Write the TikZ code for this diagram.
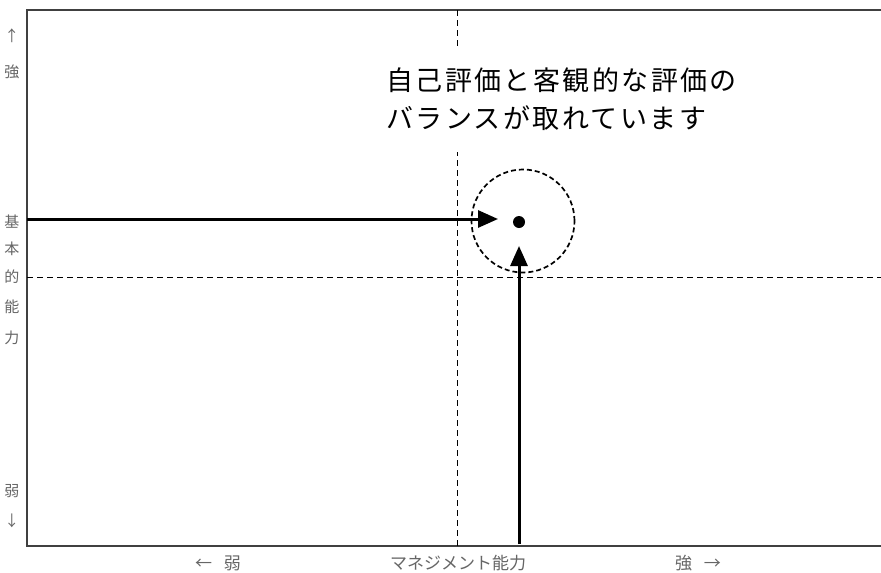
\documentclass[tikz,border=0pt]{standalone}
\usepackage{fontspec}
\newfontfamily\jp{Noto Sans CJK JP}
\newfontfamily\jpspaced{Noto Sans CJK JP}[LetterSpace=9]
\usetikzlibrary{arrows.meta}
\begin{document}
\begin{tikzpicture}[x=1pt,y=-1pt,
  frame/.style={draw=black!75,line width=1.3pt},
  guide/.style={draw=black,line width=1pt,dash pattern=on 6pt off 4pt},
  bigarrow/.style={draw=black,line width=3pt,-{Triangle[length=20pt,width=17pt]}},
  axislabel/.style={font=\jp\fontsize{15}{15}\selectfont,text=black!60,inner sep=0pt},
  bottomlabel/.style={font=\jp\fontsize{17}{17}\selectfont,text=black!60,inner sep=0pt},
  note/.style={font=\jpspaced\fontsize{27}{27}\selectfont,anchor=west,inner sep=0pt}]
\useasboundingbox (0,0) rectangle (881,573);
\fill[white] (0,0) rectangle (881,573);
% frame
\coordinate (tl) at (27,10);
\coordinate (bl) at (27,546);
\coordinate (tr) at (881,10);
\coordinate (br) at (881,546);
\draw[frame] (tr) -- (tl) -- (bl) -- (br);
% guides
\coordinate (vt) at (457,10);
\coordinate (vb) at (457,546);
\coordinate (hl) at (27,277);
\coordinate (hr) at (881,277);
\draw[guide] (vt) -- (vb);
\draw[guide] (hl) -- (hr);
% text box (white background hides the guide)
\node[fill=white,minimum width=366pt,minimum height=104pt,inner sep=0pt] (notebox) at (562,100) {};
\node[note] (n1) at (386,80) {自己評価と客観的な評価の};
\node[note] (n2) at (386,118) {バランスが取れています};
% circle and dot
\node[draw=black,line width=1.7pt,dash pattern=on 5pt off 3pt,circle,minimum size=103pt,inner sep=0pt] (ring) at (523,221) {};
\node[fill=black,circle,minimum size=12pt,inner sep=0pt] (dot) at (519,222) {};
% arrows
\coordinate (hstart) at (27,219);
\coordinate (htip) at (498,219);
\coordinate (vstart) at (519,544);
\coordinate (vtip) at (519,246);
\draw[bigarrow] (hstart) -- (htip);
\draw[bigarrow] (vstart) -- (vtip);
% left axis labels
\node[axislabel] (la1) at (12,36) {↑};
\node[axislabel] (la2) at (12,72) {強};
\node[axislabel] (lb1) at (12,222) {基};
\node[axislabel] (lb2) at (12,249) {本};
\node[axislabel] (lb3) at (12,277) {的};
\node[axislabel] (lb4) at (12,307) {能};
\node[axislabel] (lb5) at (12,338) {力};
\node[axislabel] (lc1) at (12,491) {弱};
\node[axislabel] (lc2) at (12,521) {↓};
% bottom axis labels
\node[bottomlabel] (ba1) at (218,563) {←\hspace{12pt}弱};
\node[bottomlabel] (ba2) at (458,563) {マネジメント能力};
\node[bottomlabel] (ba3) at (698,563) {強\hspace{12pt}→};
\end{tikzpicture}
\end{document}
